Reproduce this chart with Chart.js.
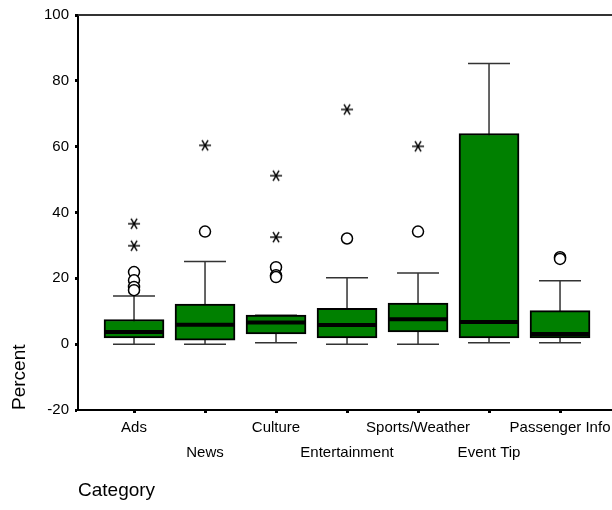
<!DOCTYPE html>
<html>
<head>
<meta charset="utf-8">
<script src="https://cdn.jsdelivr.net/npm/chart.js@4"></script>
<style>
  html, body { margin: 0; padding: 0; background: #fff; overflow: hidden; }
</style>
</head>
<body>
<canvas id="boxChart" width="612" height="510"></canvas>
<script>
// categories and box statistics (percent)
const categories = ['Ads', 'News', 'Culture', 'Entertainment', 'Sports/Weather', 'Event Tip', 'Passenger Info'];
const whiskerLow = [0, 0, 0.4, 0, 0, 0.4, 0.4];
const q1 = [1.9, 1.2, 3.1, 1.9, 3.7, 1.9, 1.9];
const median = [3.7, 5.9, 6.6, 5.8, 7.6, 6.7, 3.1];
const q3 = [7.5, 12.2, 8.8, 10.9, 12.5, 64.0, 10.2];
const whiskerHigh = [14.6, 25.1, 8.8, 20.2, 21.6, 85.3, 19.3];

// outliers (circles) and extremes (stars), one list per category
const outliers = [[21.9, 19.4, 17.4, 16.4], [34.2], [23.4, 20.9, 20.4], [32.1], [34.2], [], [26.4, 25.9]];
const extremes = [[36.6, 29.9], [60.4], [51.2, 32.5], [71.3], [60.1], [], []];

const yTicks = [-20, 0, 20, 40, 60, 80, 100];

const positions = categories.map((c, i) => i + 1);

// asterisk marker like the SPSS extreme symbol
function makeStar() {
    const c = document.createElement('canvas');
    c.width = 14; c.height = 14;
    const g = c.getContext('2d');
    g.strokeStyle = '#000';
    g.lineWidth = 1.4;
    for (let a = 0; a < 3; a++) {
        const ang = a * Math.PI / 3;
        g.beginPath();
        g.moveTo(7 - 6 * Math.cos(ang), 7 - 6 * Math.sin(ang));
        g.lineTo(7 + 6 * Math.cos(ang), 7 + 6 * Math.sin(ang));
        g.stroke();
    }
    return c;
}

const circlePoints = [];
outliers.forEach((list, i) => list.forEach(v => circlePoints.push({x: positions[i], y: v})));
const starPoints = [];
extremes.forEach((list, i) => list.forEach(v => starPoints.push({x: positions[i], y: v})));

// whiskers under the boxes, medians on top of them
const boxParts = {
    id: 'boxParts',
    beforeDatasetsDraw(chart) {
        const {ctx, scales: {x, y}} = chart;
        ctx.save();
        ctx.strokeStyle = '#333';
        ctx.lineWidth = 1.5;
        positions.forEach((p, i) => {
            const px = x.getPixelForValue(p);
            const lo = y.getPixelForValue(whiskerLow[i]);
            const hi = y.getPixelForValue(whiskerHigh[i]);
            ctx.beginPath();
            ctx.moveTo(px, lo); ctx.lineTo(px, hi);
            ctx.moveTo(px - 21, lo); ctx.lineTo(px + 21, lo);
            ctx.moveTo(px - 21, hi); ctx.lineTo(px + 21, hi);
            ctx.stroke();
        });
        ctx.restore();
    },
    afterDatasetsDraw(chart) {
        const {ctx, scales: {x, y}} = chart;
        ctx.save();
        ctx.strokeStyle = '#000';
        ctx.lineWidth = 4;
        positions.forEach((p, i) => {
            const px = x.getPixelForValue(p);
            const m = y.getPixelForValue(median[i]);
            ctx.beginPath();
            ctx.moveTo(px - 29, m); ctx.lineTo(px + 29, m);
            ctx.stroke();
        });
        ctx.restore();
    },
    afterDraw(chart) {
        const {ctx, chartArea} = chart;
        ctx.save();
        ctx.strokeStyle = '#333';
        ctx.lineWidth = 2;
        ctx.beginPath();
        ctx.moveTo(chartArea.left, chartArea.top);
        ctx.lineTo(chartArea.right, chartArea.top);
        ctx.stroke();
        ctx.restore();
    }
};

const ctx = document.getElementById('boxChart').getContext('2d');
const boxChart = new Chart(ctx, {
    type: 'bar',
    data: {
        datasets: [{
            type: 'bar',
            data: positions.map((p, i) => ({x: p, y: [q1[i], q3[i]]})),
            backgroundColor: '#008000',
            borderColor: '#000',
            borderWidth: 2,
            borderSkipped: false,
            barThickness: 60,
            order: 2
        }, {
            type: 'scatter',
            data: circlePoints,
            pointStyle: 'circle',
            pointRadius: 5.5,
            pointBackgroundColor: '#fff',
            pointBorderColor: '#000',
            pointBorderWidth: 1.5,
            order: 1
        }, {
            type: 'scatter',
            data: starPoints,
            pointStyle: makeStar(),
            order: 1
        }]
    },
    options: {
        responsive: false,
        animation: false,
        layout: { autoPadding: false, padding: { top: 14, right: 0, left: 0, bottom: 0 } },
        plugins: { legend: { display: false }, tooltip: { enabled: false } },
        scales: {
            x: {
                type: 'linear',
                offset: false,
                min: 0.211,
                max: 7.732,
                afterBuildTicks: scale => { scale.ticks = positions.map(v => ({value: v})); },
                afterFit: scale => { scale.height = 100; scale.paddingRight = 0; scale.paddingLeft = 0; },
                ticks: {
                    autoSkip: false,
                    maxRotation: 0,
                    minRotation: 0,
                    padding: 2,
                    color: '#000',
                    font: { family: 'Liberation Sans', size: 15, lineHeight: 1.667 },
                    callback: (v, i) => i % 2 === 0 ? categories[i] : ['', categories[i]]
                },
                grid: { offset: false, drawOnChartArea: false, tickLength: 3, tickWidth: 3, tickColor: '#000' },
                border: { color: '#000', width: 2 },
                title: {
                    display: true,
                    text: 'Category',
                    align: 'start',
                    color: '#000',
                    font: { family: 'Liberation Sans', size: 19 },
                    padding: { top: 0, bottom: 8 }
                }
            },
            y: {
                min: -20,
                max: 100,
                afterBuildTicks: scale => { scale.ticks = yTicks.map(v => ({value: v})); },
                afterFit: scale => { scale.width = 78; },
                ticks: {
                    padding: 6,
                    color: '#000',
                    font: { family: 'Liberation Sans', size: 15 }
                },
                grid: { drawOnChartArea: false, tickLength: 3, tickWidth: 3, tickColor: '#000' },
                border: { color: '#000', width: 2 },
                title: {
                    display: true,
                    text: 'Percent',
                    align: 'start',
                    color: '#000',
                    font: { family: 'Liberation Sans', size: 19 },
                    padding: { top: 8, bottom: 0 }
                }
            }
        }
    },
    plugins: [boxParts]
});
</script>
</body>
</html>
